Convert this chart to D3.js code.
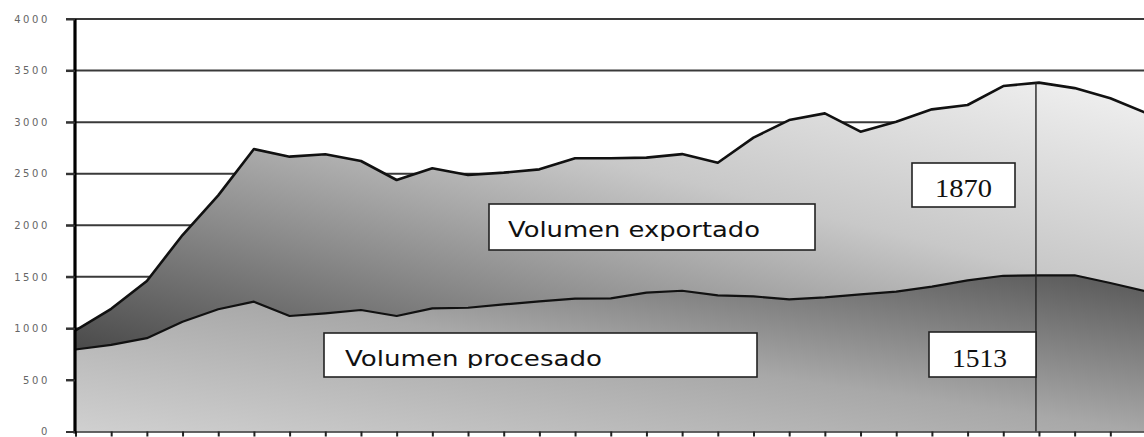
<!DOCTYPE html>
<html>
<head>
<meta charset="utf-8">
<script src="https://cdn.jsdelivr.net/npm/d3@7"></script>
<style>
  html, body { margin: 0; padding: 0; background: #fff; }
  svg { display: block; }
</style>
</head>
<body>
<svg id="chart" width="1144" height="437"></svg>
<script>
// ---- data ----
const categories = d3.range(1, 32).map(String);
const procesado = [795, 840, 905, 1065, 1185, 1259, 1120, 1146, 1178, 1120, 1194, 1200, 1232, 1262, 1288, 1291, 1346, 1365, 1320, 1310, 1282, 1300, 1330, 1356, 1405, 1465, 1510, 1513, 1515, 1440, 1360];
const exportado = [185, 350, 555, 840, 1105, 1480, 1545, 1542, 1445, 1319, 1358, 1287, 1278, 1280, 1361, 1359, 1310, 1325, 1286, 1540, 1738, 1785, 1577, 1648, 1719, 1701, 1840, 1870, 1815, 1791, 1730];
const yTicks = [0, 500, 1000, 1500, 2000, 2500, 3000, 3500, 4000];
const markIndex = 27;
const labelExportado = "Volumen exportado";
const labelProcesado = "Volumen procesado";

const svg = d3.select("#chart");
const W = 1144, H = 437;

const x = d3.scalePoint().domain(categories).range([75.5, 1146]);
const y = d3.scaleLinear().domain([0, 4000]).range([431.5, 19]);

const rows = categories.map((c, i) => ({ c, procesado: procesado[i], exportado: exportado[i] }));
const stack = d3.stack().keys(["procesado", "exportado"])(rows);

// gradients
const defs = svg.append("defs");
const gUp = defs.append("linearGradient").attr("id", "gUp")
  .attr("x1", 0).attr("y1", 1).attr("x2", 1).attr("y2", 0);
[[0, "#4a4a4a"], [0.3, "#8a8a8a"], [0.6, "#c8c8c8"], [1, "#f2f2f2"]]
  .forEach(([o, c]) => gUp.append("stop").attr("offset", o).attr("stop-color", c));
const gLo = defs.append("linearGradient").attr("id", "gLo")
  .attr("x1", 0).attr("y1", 1).attr("x2", 1).attr("y2", 0);
[[0, "#d0d0d0"], [0.5, "#a8a8a8"], [1, "#575757"]]
  .forEach(([o, c]) => gLo.append("stop").attr("offset", o).attr("stop-color", c));

defs.append("clipPath").attr("id", "plotClip").append("rect")
  .attr("x", 75).attr("y", 0).attr("width", W - 75).attr("height", 432);

// gridlines
svg.append("g").selectAll("line").data(yTicks.filter(d => d > 0)).join("line")
  .attr("x1", 66).attr("x2", W)
  .attr("y1", d => y(d)).attr("y2", d => y(d))
  .attr("stroke", "#3a3a3a").attr("stroke-width", 2);

// areas
const area = d3.area().x(d => x(d.data.c)).y0(d => y(d[0])).y1(d => y(d[1]));
const plot = svg.append("g").attr("clip-path", "url(#plotClip)");
plot.append("path").datum(stack[0]).attr("d", area).attr("fill", "url(#gLo)");
plot.append("path").datum(stack[1]).attr("d", area).attr("fill", "url(#gUp)");

const line = d3.line().x(d => x(d.data.c)).y(d => y(d[1]));
plot.append("path").datum(stack[0]).attr("d", line)
  .attr("fill", "none").attr("stroke", "#111").attr("stroke-width", 2.2).attr("stroke-linejoin", "round");
plot.append("path").datum(stack[1]).attr("d", line)
  .attr("fill", "none").attr("stroke", "#111").attr("stroke-width", 2.6).attr("stroke-linejoin", "round");

// vertical marker line
const mx = x(categories[markIndex]) - 3;
svg.append("line")
  .attr("x1", mx).attr("x2", mx)
  .attr("y1", y(stack[1][markIndex][1])).attr("y2", y(0))
  .attr("stroke", "#222").attr("stroke-width", 1.4);

// x axis
const xAxis = d3.axisBottom(x).tickSize(5).tickFormat("");
const gx = svg.append("g").attr("transform", `translate(0,${y(0)})`).call(xAxis);
gx.select(".domain").attr("stroke", "#333").attr("stroke-width", 1.5);
gx.selectAll(".tick line").attr("stroke", "#222").attr("stroke-width", 2);

// y axis
const yAxis = d3.axisLeft(y).tickValues(yTicks).tickSize(9).tickPadding(16).tickFormat(d3.format("d"));
const gy = svg.append("g").attr("transform", "translate(75,0)").call(yAxis);
gy.select(".domain").attr("stroke", "#000").attr("stroke-width", 3.2).attr("d", `M0,${y(4000)}V${y(0) + 2}`);
gy.selectAll(".tick line").attr("stroke", "#333").attr("stroke-width", 2);
gy.selectAll(".tick text")
  .attr("font-family", "DejaVu Sans, sans-serif").attr("font-size", 10)
  .attr("letter-spacing", 2.6).attr("fill", "#666");

// text boxes
function box(bx, by, bw, bh, text, tx, ty, font, size, targetW, clipY, id) {
  const g = svg.append("g");
  g.append("rect").attr("x", bx).attr("y", by).attr("width", bw).attr("height", bh)
    .attr("fill", "#fff").attr("stroke", "#222").attr("stroke-width", 1.6);
  defs.append("clipPath").attr("id", id).append("rect")
    .attr("x", bx).attr("y", by).attr("width", bw).attr("height", clipY - by);
  const t = g.append("text").attr("x", tx).attr("y", ty)
    .attr("font-family", font).attr("font-size", size).attr("fill", "#111")
    .attr("clip-path", `url(#${id})`).text(text);
  if (targetW) t.attr("textLength", targetW).attr("lengthAdjust", "spacingAndGlyphs");
}
box(489, 204, 326, 46, labelExportado, 508, 237, "DejaVu Sans, sans-serif", 22, 252, 241, "c1");
box(324, 333, 433, 44, labelProcesado, 345, 365.5, "DejaVu Sans, sans-serif", 22, 257, 368, "c2");
box(912, 163, 103, 44, String(exportado[markIndex]), 935, 197, "Liberation Serif, serif", 26, 57, 199, "c3");
box(929, 332, 107, 45, String(procesado[markIndex]), 952, 367, "Liberation Serif, serif", 25, 55, 369, "c4");
</script>
</body>
</html>
